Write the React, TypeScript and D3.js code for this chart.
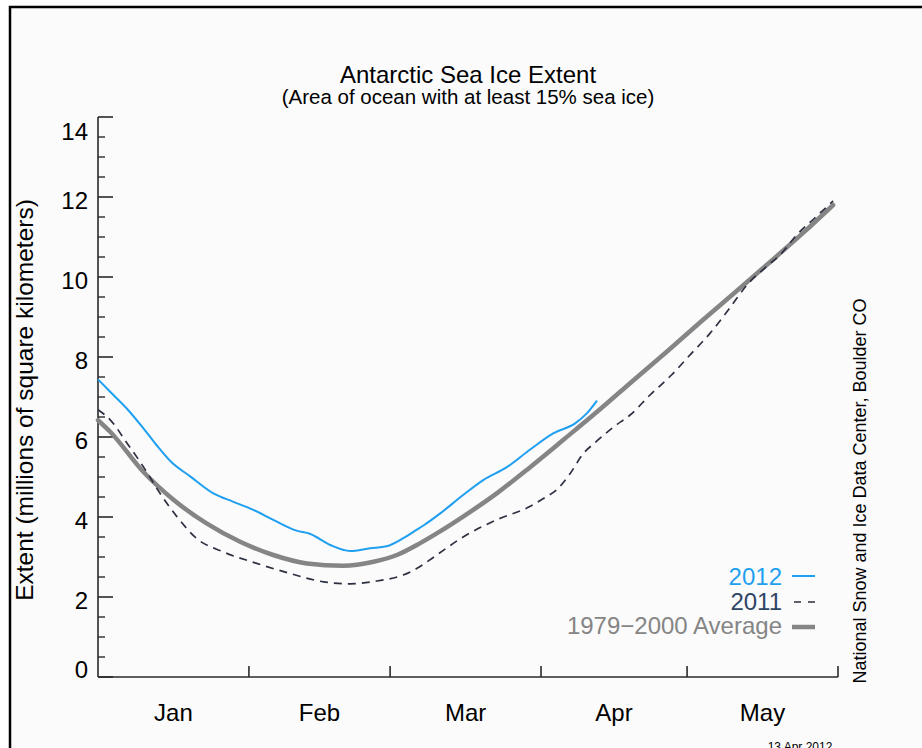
import React from 'react'
import * as d3 from 'd3'

// day of year (0 = Jan 1) and extent in millions of km²
const days2012 = [0, 2.5, 6, 9.3, 12, 15, 19, 23.7, 27.8, 31.9, 36, 40.8, 43.5, 47.7, 51.8, 55.9, 59.3, 62.7, 64.8, 67, 70.3, 75, 79.2, 83.9, 88.7, 93.5, 98, 100.4, 102.5]
const ext2012 = [7.44, 7.13, 6.7, 6.22, 5.8, 5.38, 5.01, 4.59, 4.38, 4.18, 3.93, 3.66, 3.58, 3.3, 3.15, 3.22, 3.27, 3.47, 3.63, 3.8, 4.09, 4.55, 4.93, 5.24, 5.68, 6.09, 6.34, 6.59, 6.91]

const days2011 = [0, 2.5, 6, 9.3, 12.7, 16.2, 20.3, 25.7, 32.6, 39.4, 46.3, 51.8, 57.3, 62.7, 66, 69, 75, 81.9, 88.7, 92, 94.2, 97, 99.7, 102, 106, 109.3, 113.4, 117.8, 121.9, 125.7, 129.5, 133.3, 137.7, 140.1, 143.5, 147, 151]
const ext2011 = [6.68, 6.43, 5.84, 5.26, 4.6, 4.01, 3.46, 3.13, 2.84, 2.59, 2.38, 2.33, 2.4, 2.55, 2.75, 3.0, 3.5, 3.93, 4.26, 4.5, 4.68, 5.09, 5.59, 5.85, 6.26, 6.55, 7.05, 7.55, 8.09, 8.59, 9.18, 9.8, 10.3, 10.55, 11.05, 11.45, 11.9]

const daysAvg = [0, 2.5, 9.3, 15.5, 22.3, 29.2, 36, 42.9, 50.4, 56.6, 61.4, 66.1, 70, 75, 81.9, 88.7, 95.6, 103, 110, 117, 124, 131, 138, 145, 151]
const extAvg = [6.42, 6.13, 5.13, 4.43, 3.84, 3.38, 3.05, 2.84, 2.78, 2.88, 3.05, 3.34, 3.62, 4.01, 4.59, 5.24, 5.93, 6.68, 7.42, 8.15, 8.9, 9.63, 10.37, 11.12, 11.8]

const monthStarts = [0, 31, 60, 91, 121, 152]
const monthNames = ['Jan', 'Feb', 'Mar', 'Apr', 'May']

const font = '"Liberation Sans", Arial, Helvetica, sans-serif'
const blue = '#1e9ff0'
const slate = '#2e4565'
const dashCol = '#2d3040'
const grey = '#858585'
const axisCol = '#2a2a2a'

const x = d3.scaleLinear().domain([0, 152]).range([98, 838])
const y = d3.scaleLinear().domain([0, 14]).range([677, 117])

function pathFor(days: number[], vals: number[]) {
  const pts = days.map((d, i) => [d, vals[i]] as [number, number])
  return d3.line<[number, number]>()
    .x(p => x(p[0]))
    .y(p => y(p[1]))
    .curve(d3.curveMonotoneX)(pts) as string
}

export default function App() {
  const majors = y.ticks(7)
  const minors = y.ticks(28).filter(t => majors.indexOf(t) < 0)
  const last = majors[majors.length - 1]

  return (
    <svg width={922} height={748} style={{ position: 'absolute', left: 0, top: 0, background: '#fff' }}>
      <rect x={10} y={7} width={1000} height={800} fill="#fbfbfb" stroke="#000" strokeWidth={2.5} />

      <g fontFamily={font} fill="#000" textAnchor="middle">
        <text x={468} y={83} fontSize={24}>Antarctic Sea Ice Extent</text>
        <text x={468} y={104} fontSize={20.5}>(Area of ocean with at least 15% sea ice)</text>
      </g>

      {/* y axis */}
      <line x1={x(0)} x2={x(0)} y1={y(14)} y2={y(0)} stroke={axisCol} strokeWidth={1.6} />
      {majors.map(t => (
        <g key={'M' + t}>
          <line x1={x(0)} x2={x(0) + 15} y1={y(t)} y2={y(t)} stroke={axisCol} strokeWidth={1.6} />
          <text x={88} y={y(t) + (t === 0 ? 1 : t === last ? 23 : 12)} fontSize={24} fontFamily={font} textAnchor="end">{t}</text>
        </g>
      ))}
      {minors.map(t => (
        <line key={'m' + t} x1={x(0)} x2={x(0) + 7} y1={y(t)} y2={y(t)} stroke={axisCol} strokeWidth={1.4} />
      ))}
      <text transform={`translate(33,400) rotate(-90)`} fontSize={24.5} fontFamily={font} textAnchor="middle">
        Extent (millions of square kilometers)
      </text>

      {/* x axis */}
      <line x1={x(0)} x2={x(152)} y1={y(0)} y2={y(0)} stroke={axisCol} strokeWidth={1.6} />
      {monthStarts.slice(1).map(d => (
        <line key={'t' + d} x1={x(d)} x2={x(d)} y1={y(0)} y2={y(0) - 11} stroke={axisCol} strokeWidth={1.6} />
      ))}
      {monthNames.map((m, i) => (
        <text key={m} x={x((monthStarts[i] + monthStarts[i + 1]) / 2)} y={721} fontSize={24} fontFamily={font} textAnchor="middle">{m}</text>
      ))}

      {/* series */}
      <path d={pathFor(daysAvg, extAvg)} fill="none" stroke={grey} strokeWidth={4.5} strokeLinecap="round" />
      <path d={pathFor(days2011, ext2011)} fill="none" stroke={dashCol} strokeWidth={1.7} strokeDasharray="8,6" />
      <path d={pathFor(days2012, ext2012)} fill="none" stroke={blue} strokeWidth={2} />

      {/* legend */}
      <g fontFamily={font} fontSize={24} textAnchor="end">
        <text x={782} y={585} fill={blue}>2012</text>
        <line x1={792} x2={815} y1={576} y2={576} stroke={blue} strokeWidth={2} />
        <text x={782} y={610} fill={slate}>2011</text>
        <line x1={794} x2={815} y1={602} y2={602} stroke={dashCol} strokeWidth={1.7} strokeDasharray="7,7" />
        <text x={782} y={634} fill={grey}>1979−2000 Average</text>
        <line x1={792} x2={815} y1={627} y2={627} stroke={grey} strokeWidth={4.5} />
      </g>

      <text transform={`translate(866,491) rotate(-90)`} fontSize={18} fontFamily={font} textAnchor="middle">
        National Snow and Ice Data Center, Boulder CO
      </text>
      <text x={800} y={751} fontSize={12} fontFamily={font} textAnchor="middle">13 Apr 2012</text>
    </svg>
  )
}
